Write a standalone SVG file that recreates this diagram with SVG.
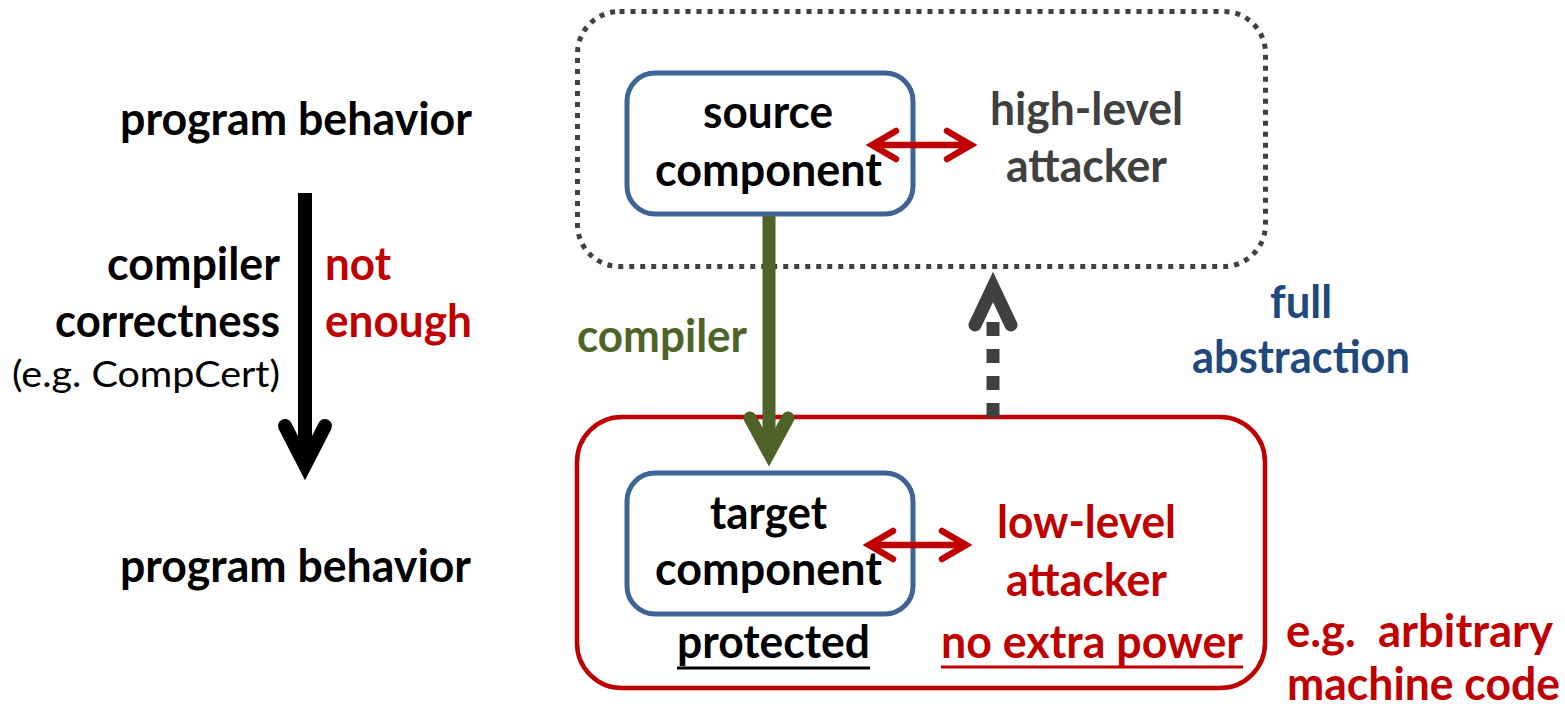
<svg xmlns="http://www.w3.org/2000/svg" width="1565" height="707" viewBox="0 0 1565 707">
  <defs>
    <style>
      text { font-family: Lato, "Open Sans", "Liberation Sans", sans-serif; font-weight: 700; font-size: 45px; }
      .reg { font-weight: 400; font-size: 37px; }
      .black { fill: #000000; }
      .gray { fill: #404040; }
      .red { fill: #C00000; }
      .green { fill: #4F6228; }
      .blue { fill: #1F497D; }
      .comp { fill: #ffffff; stroke: #3D6495; stroke-width: 5; }
      .chev { fill: none; stroke-linecap: round; stroke-linejoin: miter; stroke-miterlimit: 10; }
    </style>
  </defs>

  <!-- left column: behavior preservation -->
  <g id="left-column">
    <text class="black" x="120" y="135" textLength="352" lengthAdjust="spacingAndGlyphs">program behavior</text>
    <text class="black" x="107" y="280" textLength="173" lengthAdjust="spacingAndGlyphs">compiler</text>
    <text class="black" x="55" y="337" textLength="225" lengthAdjust="spacingAndGlyphs">correctness</text>
    <text class="black reg" x="12" y="387" textLength="268" lengthAdjust="spacingAndGlyphs">(e.g. CompCert)</text>
    <text class="red" x="325" y="280" textLength="66" lengthAdjust="spacingAndGlyphs">not</text>
    <text class="red" x="325" y="337" textLength="147" lengthAdjust="spacingAndGlyphs">enough</text>
    <text class="black" x="120" y="582" textLength="351" lengthAdjust="spacingAndGlyphs">program behavior</text>
  </g>

  <!-- high-level world (dotted) -->
  <g id="high-level-world">
    <rect x="577.5" y="11.5" width="688" height="255" rx="42" ry="42" fill="none" stroke="#404040" stroke-width="5" stroke-dasharray="5 6"/>
  </g>

  <!-- low-level world (solid red) -->
  <g id="low-level-world">
    <rect x="577" y="417" width="688" height="271" rx="45" ry="45" fill="none" stroke="#C00000" stroke-width="4.5"/>
  </g>

  <g id="source-component">
    <rect class="comp" x="627" y="73" width="286" height="141" rx="28" ry="28"/>
    <text class="black" x="703" y="128" textLength="130" lengthAdjust="spacingAndGlyphs">source</text>
    <text class="black" x="655" y="186" textLength="227" lengthAdjust="spacingAndGlyphs">component</text>
  </g>

  <g id="high-level-attacker">
    <text class="gray" x="990" y="125" textLength="193" lengthAdjust="spacingAndGlyphs">high-level</text>
    <text class="gray" x="1006" y="182" textLength="161" lengthAdjust="spacingAndGlyphs">attacker</text>
  </g>

  <g id="target-component">
    <rect class="comp" x="627" y="473" width="286" height="141" rx="28" ry="28"/>
    <text class="black" x="710" y="529" textLength="117" lengthAdjust="spacingAndGlyphs">target</text>
    <text class="black" x="655" y="585" textLength="227" lengthAdjust="spacingAndGlyphs">component</text>
    <text class="black" x="677" y="658" textLength="193" lengthAdjust="spacingAndGlyphs">protected</text>
    <line x1="677" y1="668" x2="870" y2="668" stroke="#000000" stroke-width="3"/>
  </g>

  <g id="low-level-attacker">
    <text class="red" x="997" y="538" textLength="179" lengthAdjust="spacingAndGlyphs">low-level</text>
    <text class="red" x="1006" y="596" textLength="161" lengthAdjust="spacingAndGlyphs">attacker</text>
    <text class="red" x="941" y="658" textLength="302" lengthAdjust="spacingAndGlyphs">no extra power</text>
    <line x1="941" y1="667" x2="1243" y2="667" stroke="#C00000" stroke-width="3"/>
  </g>

  <g id="full-abstraction-label">
    <text class="blue" x="1270" y="318" textLength="62" lengthAdjust="spacingAndGlyphs">full</text>
    <text class="blue" x="1192" y="373" textLength="218" lengthAdjust="spacingAndGlyphs">abstraction</text>
  </g>

  <g id="machine-code-note">
    <text class="red" x="1286" y="647" textLength="267" lengthAdjust="spacingAndGlyphs" xml:space="preserve">e.g.  arbitrary</text>
    <text class="red" x="1287" y="700" textLength="273" lengthAdjust="spacingAndGlyphs">machine code</text>
  </g>

  <!-- connectors -->
  <g id="connectors">
    <!-- compiler correctness arrow -->
    <line x1="305" y1="193" x2="305" y2="462" stroke="#000000" stroke-width="14"/>
    <polyline class="chev" points="285,426 305,465 325,426" stroke="#000000" stroke-width="14"/>

    <!-- compiler arrow -->
    <line x1="769" y1="216" x2="769" y2="452" stroke="#4F6228" stroke-width="13"/>
    <polyline class="chev" points="750,418 769,453 788,418" stroke="#4F6228" stroke-width="13"/>
    <text class="green" x="577" y="352" textLength="170" lengthAdjust="spacingAndGlyphs">compiler</text>

    <!-- full abstraction (dashed, upward) -->
    <line x1="993" y1="417" x2="993" y2="320" stroke="#404040" stroke-width="13" stroke-dasharray="14 13"/>
    <polyline class="chev" points="975,325 993,287 1011,325" stroke="#404040" stroke-width="13"/>

    <!-- source component <-> high-level attacker -->
    <line x1="873" y1="145" x2="970" y2="145" stroke="#C00000" stroke-width="6.5"/>
    <polyline class="chev" points="896,131 872,145 896,159" stroke="#C00000" stroke-width="6.5"/>
    <polyline class="chev" points="947,131 971,145 947,159" stroke="#C00000" stroke-width="6.5"/>

    <!-- target component <-> low-level attacker -->
    <line x1="869" y1="545" x2="966" y2="545" stroke="#C00000" stroke-width="6.5"/>
    <polyline class="chev" points="893,531 869,545 893,559" stroke="#C00000" stroke-width="6.5"/>
    <polyline class="chev" points="942,531 966,545 942,559" stroke="#C00000" stroke-width="6.5"/>
  </g>
</svg>
